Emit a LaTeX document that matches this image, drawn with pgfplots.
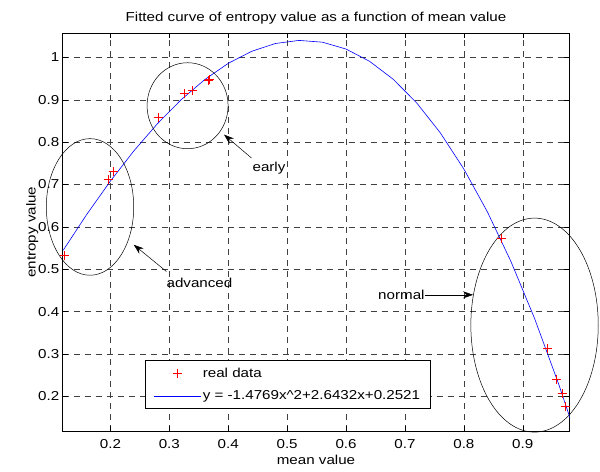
\documentclass[border=0pt]{standalone}
\usepackage{pgfplots}
\pgfplotsset{compat=1.18}
\usepackage{fontspec}
\setmainfont{Liberation Sans}[FakeStretch=1.17]
\usetikzlibrary{arrows.meta}

% plus mark that carries its own stroke colour
\pgfdeclareplotmark{rplus}{%
  \pgfsetstrokecolor{red}%
  \pgfsetlinewidth{1bp}%
  \pgfpathmoveto{\pgfqpoint{-\pgfplotmarksize}{0pt}}%
  \pgfpathlineto{\pgfqpoint{\pgfplotmarksize}{0pt}}%
  \pgfpathmoveto{\pgfqpoint{0pt}{-\pgfplotmarksize}}%
  \pgfpathlineto{\pgfqpoint{0pt}{\pgfplotmarksize}}%
  \pgfusepathqstroke}

% fitted curve
\pgfplotstableread{
x y
0.12 0.5450
0.16 0.6297
0.20 0.7081
0.24 0.7797
0.28 0.8439
0.32 0.9000
0.36 0.9476
0.40 0.9860
0.44 1.0146
0.48 1.0329
0.52 1.0402
0.56 1.0360
0.60 1.0198
0.64 0.9908
0.68 0.9486
0.72 0.8925
0.76 0.8220
0.80 0.7365
0.84 0.6353
0.88 0.5180
0.92 0.3839
0.96 0.2324
0.98 0.1500
}\fitcurve

% measured points
\pgfplotstableread{
x y
0.122 0.532
0.196 0.711
0.2045 0.731
0.281 0.859
0.326 0.914
0.339 0.922
0.366 0.946
0.369 0.949
0.864 0.572
0.942 0.312
0.958 0.240
0.967 0.207
0.9725 0.175
}\realdata

\begin{document}
\begin{tikzpicture}
\begin{axis}[
    scale only axis,
    width=506.6bp, height=397.7bp,
    font=\fontsize{13}{15}\selectfont,
    xmin=0.119, xmax=0.979,
    ymin=0.118, ymax=1.057,
    xtick={0.2,0.3,0.4,0.5,0.6,0.7,0.8,0.9},
    ytick={0.2,0.3,0.4,0.5,0.6,0.7,0.8,0.9,1},
    /pgf/number format/assume math mode=true,
    /pgf/number format/fixed,
    xticklabel style={yshift=-5bp},
    ylabel style={yshift=-7bp},
    tick align=inside,
    major tick length=5bp,
    tick style={black, line width=0.5bp},
    axis line style={black, line width=0.6bp},
    grid=major,
    grid style={black!75, line width=0.5bp, dash pattern=on 6bp off 5bp},
    title={Fitted curve of entropy value as a function of mean value},
    xlabel={mean value},
    ylabel={entropy value},
    clip=false,
    legend cell align=left,
    legend style={at={(rel axis cs:0.163,0.057)}, anchor=south west,
        draw=black, line width=0.5bp, fill=white,
        row sep=8bp, inner xsep=8bp, inner ysep=5bp},
    legend image code/.code={
        \draw[mark repeat=2, mark phase=2, #1]
            plot coordinates {(0bp,0bp) (23.3bp,0bp) (46.7bp,0bp)};},
    realmarks/.style={only marks, mark=rplus, mark size=4.5bp, red,
        mark options={solid}},
]
\addplot[realmarks] table {\realdata};
\addplot[blue, line width=0.6bp, mark=none] table {\fitcurve};
\addplot[realmarks, forget plot] table {\realdata};
\legend{real data, y = -1.4769x\textasciicircum 2+2.6432x+0.2521}

\draw[black, line width=0.5bp] (axis cs:0.1654,0.647) ellipse [x radius=43.7bp, y radius=68.3bp];
\draw[black, line width=0.5bp] (axis cs:0.331,0.886) ellipse [x radius=40.5bp, y radius=43bp];
\draw[black, line width=0.5bp] (axis cs:0.920,0.368) ellipse [x radius=63.7bp, y radius=107bp];

\draw[black, line width=0.5bp, -{Stealth[length=10bp, width=7bp]}]
    (axis cs:0.4394,0.7626) -- (axis cs:0.3929,0.8177);
\draw[black, line width=0.5bp, -{Stealth[length=10bp, width=7bp]}]
    (axis cs:0.2951,0.4946) -- (axis cs:0.2396,0.5577);
\draw[black, line width=0.5bp, -{Stealth[length=10bp, width=7bp]}]
    (axis cs:0.7336,0.4395) -- (axis cs:0.8156,0.4395);
\node[anchor=west, inner sep=0pt] at (axis cs:0.441,0.739) {early};
\node[anchor=west, inner sep=0pt] at (axis cs:0.2951,0.4686) {advanced};
\node[anchor=west, inner sep=0pt] at (axis cs:0.6543,0.4395) {normal};
\end{axis}
\pgfresetboundingbox
\path (current axis.south west) ++(-62.7bp,-41bp) rectangle ++(600bp,472bp);
\end{tikzpicture}
\end{document}
